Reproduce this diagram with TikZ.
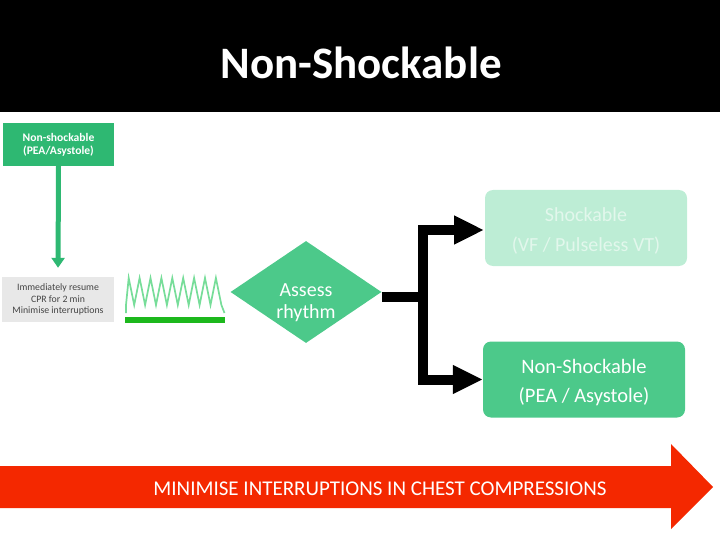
\documentclass[tikz,border=0pt]{standalone}
\usepackage{fontspec}
\setmainfont{Carlito}
\usetikzlibrary{shapes.geometric,arrows.meta}
\definecolor{boxgreen}{HTML}{2EB872}
\definecolor{diagreen}{HTML}{4CC98A}
\definecolor{fadegreen}{HTML}{BDEDD5}
\definecolor{fadetext}{HTML}{E2F7EC}
\definecolor{zigzag}{HTML}{77DD99}
\definecolor{bargreen}{HTML}{1DB81D}
\definecolor{redarrow}{HTML}{F42800}
\definecolor{graybox}{HTML}{E8E8E8}
\definecolor{graytext}{HTML}{444444}
\tikzset{
  bigbox/.style={rounded corners=8pt, minimum width=202pt, minimum height=76pt, inner sep=0pt},
  bigtext/.style={align=center, inner sep=0pt},
  blk/.style={draw=black, line width=10pt, line join=miter},
}
\begin{document}
\begin{tikzpicture}[x=1pt,y=-1pt]
\useasboundingbox (0,0) rectangle (720,540);
% title band
\fill[black] (0,0) rectangle (720,112);
\node[text=white, font=\fontsize{45}{50}\selectfont\bfseries] (title) at (361,63) {Non-Shockable};
% top-left box
\node[fill=boxgreen, minimum width=111pt, minimum height=43pt, inner sep=0pt, align=center,
      text=white, font=\fontsize{11.6}{13}\selectfont\bfseries] (ns) at (58.5,144.5) {Non-shockable\\(PEA/Asystole)};
% gray box
\node[fill=graybox, minimum width=112pt, minimum height=45pt, inner sep=0pt, align=center,
      text=graytext, font=\fontsize{9.8}{11.5}\selectfont] (cpr) at (58,299.5) {Immediately resume\\CPR for 2 min\\Minimise interruptions};
\draw[draw=boxgreen, line width=5pt, -{Triangle[width=13pt,length=10pt]}, shorten >=9pt] (ns.south) -- (cpr.north);
% zigzag
\draw[zigzag, line width=1.7pt, line join=miter]
  (126,313) -- (126,305)
  \foreach \i in {0,...,8} { -- ({128.7+\i*10.9},278) -- ({134.2+\i*10.9},305) }
  -- (224.5,313);
\fill[bargreen] (125,317) rectangle (225,322.5);
% diamond
\node[diamond, fill=diagreen, aspect=1.48, minimum width=151pt, minimum height=102pt, inner sep=0pt] (dia) at (306,292) {};
\node[align=center, text=white, font=\fontsize{20}{22}\selectfont, inner sep=0pt] (diatext) at (306,303) {Assess\\rhythm};
% outcome boxes
\node[bigbox, fill=fadegreen] (shock) at (586,228) {};
\node[bigtext, text=fadetext, font=\fontsize{20}{30}\selectfont] (shocktext) at (586,231) {Shockable\\(VF / Pulseless VT)};
\node[bigbox, fill=diagreen] (nonshock) at (584,379.5) {};
\node[bigtext, text=white, font=\fontsize{20.5}{29}\selectfont] (nonshocktext) at (584,382.5) {Non-Shockable\\(PEA / Asystole)};
% black connectors
\coordinate (j) at (423,297);
\draw[blk] (dia.east |- j) -- (j);
\draw[blk, -{Triangle[width=27pt,length=30pt]}] (j) |- (484,230);
\draw[blk, -{Triangle[width=27pt,length=30pt]}] (j) |- (nonshock.west);
% red arrow
\fill[redarrow] (0,466) -- (671,466) -- (671,444) -- (713,487) -- (671,529) -- (671,508) -- (0,508) -- cycle;
\node[text=white, font=\fontsize{21}{24}\selectfont] (msg) at (380,489) {MINIMISE INTERRUPTIONS IN CHEST COMPRESSIONS};
\end{tikzpicture}
\end{document}
